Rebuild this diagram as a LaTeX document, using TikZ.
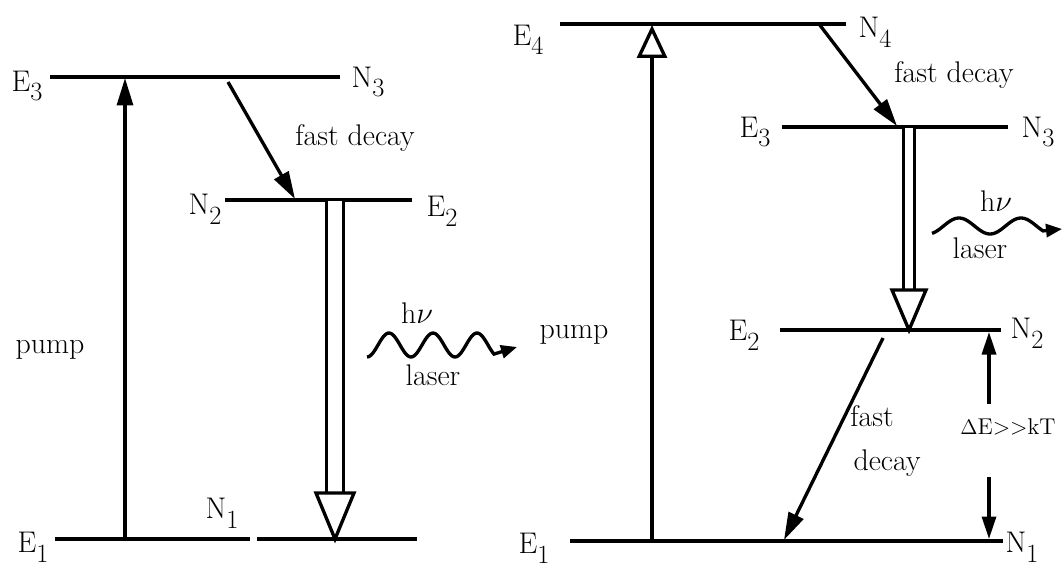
\documentclass[tikz,border=0pt]{standalone}
\usepackage{amsmath}
\usepackage{tikz}
\usetikzlibrary{arrows.meta}
\newcommand{\lvl}[2]{#1\raisebox{-0.75ex}{\fontsize{15}{17}\selectfont #2}}

\begin{document}
\begin{tikzpicture}[x=0.02cm, y=-0.02cm, line width=1.9pt,
  every node/.style={font=\fontsize{17}{20}\selectfont, inner sep=0pt},
  level/.style={line width=1.9pt},
  decay/.style={-{Triangle[length=5.5mm,width=3.2mm]}},
  small/.style={-{Triangle[length=4.5mm,width=2.8mm]}},
  pumpopen/.style={-{Triangle[open,length=6.6mm,width=6mm]}},
  lasing/.style={double, double distance=#1},
  wave/.style={-{Triangle[length=3.2mm,width=2.6mm]}}]
  \useasboundingbox (0,0) rectangle (1064,568);

  % Trois niveaux (à gauche)
  \draw[level] (50,77) -- (340,77);
  \draw[level] (225,200) -- (412,200);
  \draw[level] (55,539) -- (250,539);
  \draw[level] (257,539) -- (417,539);
  \node (E3l) at (27,86) {\lvl{E}{3}};
  \node (N3l) at (368,82) {\lvl{N}{3}};
  \node (N2l) at (205,209) {\lvl{N}{2}};
  \node (E2l) at (442,211) {\lvl{E}{2}};
  \node (E1l) at (33,547) {\lvl{E}{1}};
  \node (N1l) at (222,513) {\lvl{N}{1}};

  % pompe et désexcitation rapide
  \coordinate (pumpLa) at (125,539);
  \coordinate (pumpLb) at (125,78);
  \draw[decay] (pumpLa) -- (pumpLb);
  \node (pumpL) at (50,350) {pump};
  \coordinate (fastLa) at (228,82);
  \coordinate (fastLb) at (295,199);
  \draw[decay] (fastLa) -- (fastLb);
  \node (fastL) at (355,138) {fast decay};

  % transition laser
  \coordinate (lasLa) at (335,201);
  \coordinate (lasLb) at (335,493);
  \draw[lasing=0.28cm] (lasLa) -- (lasLb);
  \draw[fill=white] (316,493) -- (354,493) -- (335,539) -- cycle;
  \draw[wave] plot[domain=367:494, samples=80] (\x, {345+12*cos(8.1818*(\x-367))}) -- (517,347);
  \node (hvL) at (417,313) {h$\nu$};
  \node (laserL) at (433,375) {laser};

  % Quatre niveaux (à droite)
  \draw[level] (560,24) -- (846,24);
  \draw[level] (782,127) -- (1008,127);
  \draw[level] (780,330) -- (1001,330);
  \draw[level] (570,541) -- (1003,541);
  \node (E4r) at (528,40) {\lvl{E}{4}};
  \node (N4r) at (875,32) {\lvl{N}{4}};
  \node (E3r) at (755,132) {\lvl{E}{3}};
  \node (N3r) at (1038,132) {\lvl{N}{3}};
  \node (E2r) at (744,335) {\lvl{E}{2}};
  \node (N2r) at (1027,333) {\lvl{N}{2}};
  \node (E1r) at (534,548) {\lvl{E}{1}};
  \node (N1r) at (1022,547) {\lvl{N}{1}};

  % pompe
  \coordinate (pumpRa) at (652,539);
  \coordinate (pumpRb) at (652,25);
  \draw[pumpopen] (pumpRa) -- (pumpRb);
  \node (pumpR) at (574,335) {pump};

  % désexcitations rapides
  \coordinate (fastRa) at (819,24);
  \coordinate (fastRb) at (897,126);
  \draw[decay] (fastRa) -- (fastRb);
  \node (fastR) at (954,75) {fast decay};
  \coordinate (fastSa) at (883,338);
  \coordinate (fastSb) at (784,540);
  \draw[decay] (fastSa) -- (fastSb);
  \node (fastS) at (872,416) {fast};
  \node (decayS) at (887,463) {decay};

  % transition laser
  \coordinate (lasRa) at (909,128);
  \coordinate (lasRb) at (909,290);
  \draw[lasing=0.15cm] (lasRa) -- (lasRb);
  \draw[fill=white] (892,290) -- (926,290) -- (909,330) -- cycle;
  \draw[wave] plot[domain=932:1043, samples=60] (\x, {226+8*cos(5.8065*(\x-928))}) -- (1062,229);
  \node (hvR) at (996,201) {h$\nu$};
  \node (laserR) at (980,248) {laser};

  % écart d'énergie
  \coordinate (gapA) at (989,404);
  \coordinate (gapB) at (989,332);
  \coordinate (gapC) at (989,477);
  \coordinate (gapD) at (989,539);
  \draw[small] (gapA) -- (gapB);
  \draw[small] (gapC) -- (gapD);
  \node (gap) at (1008,427) {\fontsize{13}{15}\selectfont $\Delta$E>{}>kT};
\end{tikzpicture}
\end{document}
